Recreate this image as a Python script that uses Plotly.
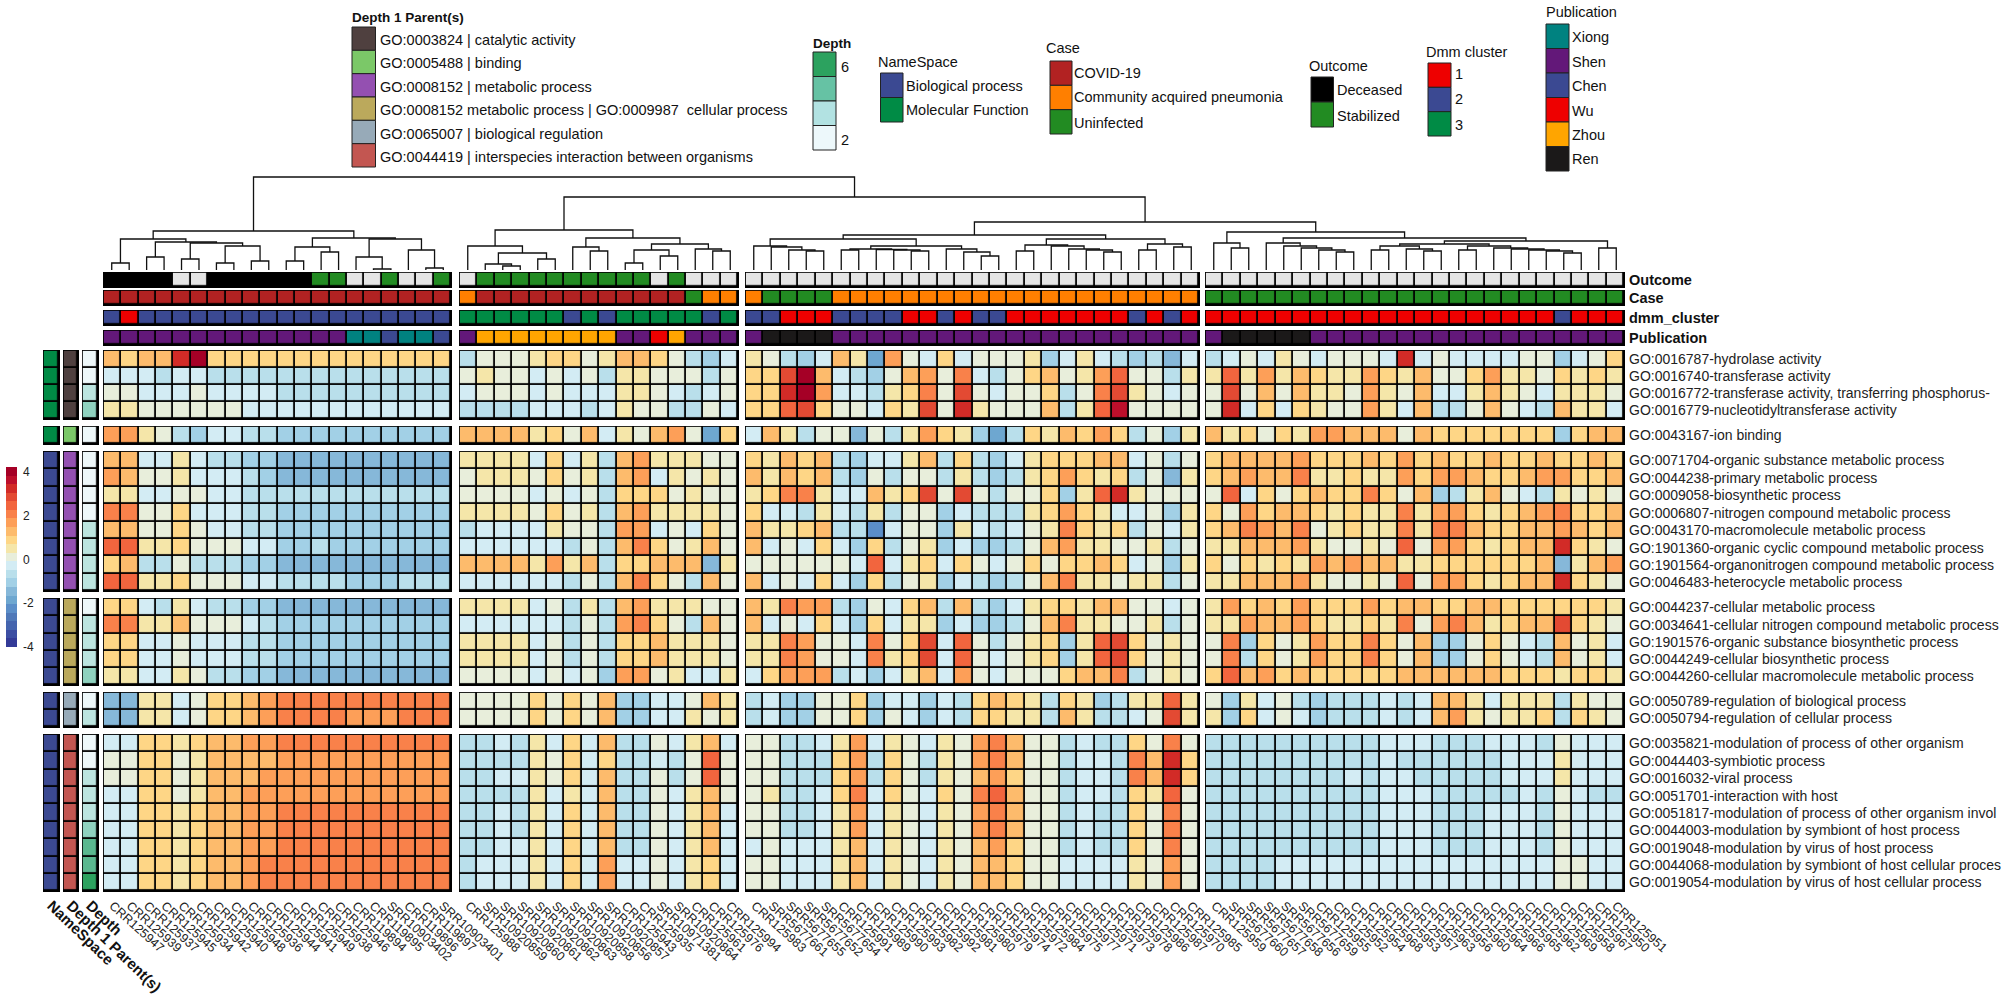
import plotly.graph_objects as go

W, H = 2006, 1006
FONT = "Liberation Sans"

# ---------- data ----------
samples_a = ["CRR125947","CRR125939","CRR125937","CRR125945","CRR125934","CRR125942","CRR125940","CRR125948","CRR125936","CRR125944","CRR125941","CRR125949","CRR125938","CRR125946","CRR119894","CRR119895","SRR10903402","CRR119896","CRR119897","SRR10903401"]
samples_b = ["CRR125988","SRR10920859","SRR10920860","SRR10920861","SRR10920862","SRR10920863","SRR10920858","SRR10920856","SRR10920857","CRR125943","CRR125935","SRR10971381","SRR10920864","CRR125961","CRR125976","CRR125994"]
samples_c = ["CRR125983","SRR5677661","SRR5677655","SRR5677652","SRR5677654","CRR125991","CRR125989","CRR125990","CRR125993","CRR125982","CRR125992","CRR125981","CRR125980","CRR125979","CRR125974","CRR125972","CRR125984","CRR125975","CRR125977","CRR125971","CRR125973","CRR125978","CRR125986","CRR125987","CRR125970","CRR125985"]
samples_d = ["CRR125959","SRR5677660","SRR5677657","SRR5677658","SRR5677656","SRR5677659","CRR125955","CRR125952","CRR125954","CRR125968","CRR125953","CRR125957","CRR125963","CRR125956","CRR125960","CRR125964","CRR125966","CRR125965","CRR125962","CRR125969","CRR125958","CRR125967","CRR125950","CRR125951"]

terms_a = ["GO:0016787-hydrolase activity","GO:0016740-transferase activity","GO:0016772-transferase activity, transferring phosphorus-","GO:0016779-nucleotidyltransferase activity"]
terms_b = ["GO:0043167-ion binding"]
terms_c = ["GO:0071704-organic substance metabolic process","GO:0044238-primary metabolic process","GO:0009058-biosynthetic process","GO:0006807-nitrogen compound metabolic process","GO:0043170-macromolecule metabolic process","GO:1901360-organic cyclic compound metabolic process","GO:1901564-organonitrogen compound metabolic process","GO:0046483-heterocycle metabolic process"]
terms_d = ["GO:0044237-cellular metabolic process","GO:0034641-cellular nitrogen compound metabolic process","GO:1901576-organic substance biosynthetic process","GO:0044249-cellular biosynthetic process","GO:0044260-cellular macromolecule metabolic process"]
terms_e = ["GO:0050789-regulation of biological process","GO:0050794-regulation of cellular process"]
terms_f = ["GO:0035821-modulation of process of other organism","GO:0044403-symbiotic process","GO:0016032-viral process","GO:0051701-interaction with host","GO:0051817-modulation of process of other organism invol","GO:0044003-modulation by symbiont of host process","GO:0019048-modulation by virus of host process","GO:0044068-modulation by symbiont of host cellular proces","GO:0019054-modulation by virus of host cellular process"]

levels_a = [
[3,2,3,3,8,10,2,2,2,2,2,2,2,2,2,2,2,2,2,2],
[-1,-1,-1,-2,-1,-1,-2,-2,-2,-2,-2,-2,-2,-2,-2,-2,-2,-2,-2,-2],
[0,0,-1,-1,-1,0,-1,-1,-1,-1,-2,-2,-2,-2,-2,-2,-2,-2,-2,-2],
[1,1,0,0,0,0,0,0,-1,-1,-1,-1,-1,-1,-1,-1,-1,-1,-1,-1],
[4,4,1,0,-2,-3,-1,-1,-2,-2,-3,-3,-3,-3,-3,-3,-3,-3,-3,-3],
[3,3,-1,-1,1,-1,-2,-2,-3,-3,-4,-4,-4,-4,-4,-4,-4,-4,-4,-4],
[4,3,0,0,1,-1,-1,-1,-2,-3,-4,-4,-4,-4,-4,-4,-4,-4,-4,-4],
[1,1,-1,-1,0,0,-1,-1,-2,-2,-2,-2,-2,-2,-2,-2,-2,-2,-2,-2],
[5,5,0,0,2,-1,-1,-1,-2,-2,-3,-3,-3,-3,-3,-3,-3,-3,-3,-3],
[3,3,0,0,2,0,-1,-1,-2,-2,-3,-3,-3,-3,-3,-3,-3,-3,-3,-3],
[6,6,1,1,2,0,0,0,-1,-1,-3,-3,-2,-3,-3,-3,-3,-3,-3,-3],
[2,3,-2,-2,0,-2,-2,-2,-3,-3,-4,-4,-4,-4,-4,-4,-4,-4,-4,-4],
[6,6,1,1,2,0,0,0,-1,-1,-2,-2,-2,-2,-3,-3,-3,-2,-2,-2],
[2,2,-1,-2,1,-1,-2,-2,-3,-3,-4,-4,-4,-4,-4,-4,-4,-4,-4,-4],
[5,5,1,1,3,0,0,0,-1,-2,-3,-3,-3,-3,-3,-3,-3,-3,-3,-3],
[2,2,-1,-1,0,-1,-1,-1,-2,-2,-3,-3,-3,-3,-3,-3,-3,-3,-3,-3],
[2,2,-1,-1,0,-1,-1,-1,-2,-2,-3,-3,-3,-3,-3,-3,-3,-3,-3,-3],
[1,1,-1,-1,1,0,-2,-2,-3,-3,-4,-4,-4,-4,-4,-4,-4,-4,-4,-4],
[-4,-4,1,1,-1,0,2,2,3,4,5,5,5,5,5,5,5,5,5,5],
[-4,-4,1,1,-1,0,2,2,3,4,5,5,5,5,4,4,4,5,5,5],
[-1,-1,2,2,1,2,3,3,4,4,5,5,5,5,5,5,5,5,5,5],
[0,0,2,2,0,1,3,3,3,3,4,4,4,4,4,4,4,4,4,4],
[0,0,2,2,0,1,3,3,3,4,4,4,4,4,4,4,4,4,4,4],
[-1,-1,2,2,0,1,3,3,4,4,4,4,4,4,4,4,4,4,4,4],
[-1,-1,2,2,1,2,3,3,4,4,5,5,5,5,5,5,5,5,5,5],
[-1,-1,2,2,1,2,3,3,4,4,5,5,5,5,5,5,5,5,5,5],
[-1,-1,2,2,1,2,3,3,4,4,5,5,5,5,5,5,5,5,5,5],
[-1,-1,2,2,1,2,3,3,4,5,5,5,5,5,5,5,5,5,5,5],
[-1,-1,2,2,1,2,3,3,4,5,5,5,5,5,5,5,5,5,5,5],
]
levels_b = [
[-2,0,0,0,1,2,2,0,1,3,3,2,0,-2,-3,-1],
[0,1,0,0,-1,0,-1,0,-2,1,1,0,0,0,-2,0],
[-1,0,0,0,-1,0,-1,-1,-1,1,1,0,-1,-2,-1,0],
[-2,-2,-2,-2,-1,-1,-1,-2,-1,1,0,0,-2,-2,0,-1],
[3,3,3,3,1,2,0,3,-1,1,0,3,4,0,-5,2],
[1,1,1,1,-1,2,-1,1,-2,3,4,1,1,1,0,0],
[0,1,1,1,0,2,0,1,-2,3,4,-1,1,0,1,0],
[0,0,0,0,-1,0,-1,0,-2,2,2,2,0,1,0,0],
[1,1,1,1,0,2,0,1,-2,3,4,1,1,1,1,0],
[-2,-1,-1,-1,-1,1,0,0,-2,4,4,-1,0,-1,2,0],
[-1,-1,-1,-1,-1,-1,-2,0,-2,3,5,2,0,1,3,0],
[3,3,3,3,1,4,1,3,-2,2,2,3,3,3,-4,1],
[-1,-1,-1,-1,-1,-1,-2,0,-2,3,5,2,0,-2,3,0],
[1,1,1,1,-1,0,-2,1,-2,3,4,1,1,1,0,0],
[-1,-1,-1,-1,-1,-1,-2,0,-2,4,5,2,0,-2,3,0],
[1,1,1,1,-1,0,-2,0,-2,2,2,3,1,1,1,0],
[1,1,1,1,-1,0,-2,0,-2,2,2,3,1,1,1,0],
[0,0,0,0,-1,0,-1,0,-3,4,4,0,1,-1,-1,1],
[0,0,0,0,2,0,2,0,3,-3,-3,-1,-1,0,3,1],
[0,0,0,0,2,0,2,0,3,-3,-3,-1,-1,1,0,1],
[-2,-2,-1,-2,1,-1,2,-1,3,-2,-2,0,-1,1,3,-1],
[-2,-2,-2,-2,1,0,2,-1,2,-2,-2,-1,-2,0,6,0],
[-2,-2,-1,-1,1,0,2,-1,3,-2,-2,0,-2,0,6,0],
[-2,-2,-2,-2,1,-1,1,-1,3,-2,-2,0,-1,1,3,0],
[-2,-2,-1,-2,1,-1,2,-1,3,-2,-2,0,-1,1,3,-1],
[-2,-2,-1,-2,1,-1,2,-1,3,-2,-2,0,-1,1,3,-1],
[-2,-2,-1,-1,1,-1,2,-1,3,-2,-2,0,-1,1,3,-1],
[-2,-1,-1,-1,1,-1,2,-1,4,-1,-1,0,-1,1,2,-1],
[-2,-1,-1,-1,1,-1,2,-1,4,-1,-1,0,-1,1,2,-1],
]
levels_c = [
[1,0,-2,-3,-1,3,1,-5,4,0,-1,2,-1,0,0,0,1,-3,-1,1,-1,-2,-3,-2,-4,-1],
[2,2,7,10,3,-1,-2,-3,0,3,4,0,5,-1,-2,0,2,3,0,1,4,6,0,0,-2,1],
[2,2,8,10,4,-1,-1,-2,1,2,5,0,7,0,-1,0,0,2,-2,0,5,7,1,0,-1,0],
[2,2,6,7,2,0,0,-1,2,1,7,0,8,1,0,0,0,3,-2,1,6,9,0,0,0,0],
[-1,3,1,-2,0,0,-4,0,-2,1,4,2,1,-3,-5,-2,2,1,3,2,4,2,-2,0,-3,1],
[2,1,3,2,3,-2,-3,-1,-1,1,3,-2,2,-2,-3,-1,1,2,2,2,3,3,-1,0,-2,0],
[3,1,3,2,3,-2,-3,0,-2,0,0,-2,1,-2,-3,-2,1,2,4,2,1,2,-2,0,-4,1],
[1,2,5,5,1,-1,-1,3,1,2,7,0,7,0,-2,0,0,2,-3,1,6,8,1,0,0,0],
[2,-1,-1,-2,1,-1,-2,1,-2,0,0,-3,-1,-2,-2,-2,1,2,4,2,1,-1,-1,0,-3,1],
[3,1,1,2,3,-2,-2,-6,-1,0,0,-3,1,-1,-2,-1,0,1,5,2,1,2,-2,0,-1,1],
[3,-1,0,-1,2,-1,-3,2,-2,0,1,-3,-1,-3,-3,-2,0,3,4,1,1,0,0,1,-2,0],
[0,0,0,0,0,0,-1,6,-1,1,2,-1,2,0,-1,0,2,0,2,2,3,2,-1,0,-3,1],
[3,-1,0,-1,2,-1,-3,2,-2,0,1,-3,-1,-2,-3,-2,0,3,5,1,1,0,1,1,-2,0],
[3,1,5,4,4,-2,-3,0,-1,2,3,-2,3,-2,-3,-1,1,2,2,1,3,3,0,0,-1,0],
[3,-1,0,-1,2,-1,-3,2,-1,1,1,-3,-1,-3,-3,-2,0,3,5,1,1,0,0,1,-2,0],
[1,1,5,4,0,0,-1,5,0,2,7,-1,6,0,-2,0,1,2,-3,1,6,7,2,0,1,0],
[1,1,5,4,0,0,-1,5,1,2,7,-1,6,0,-1,0,1,2,-3,1,6,7,2,0,1,0],
[-1,2,4,4,4,-2,-1,-3,-1,1,3,-1,4,0,-1,0,0,0,2,3,3,5,-2,0,1,0],
[-2,-1,-3,-3,0,0,2,-3,-1,-1,-3,-1,-2,2,3,2,1,-2,2,1,-3,-2,1,1,6,1],
[-2,-1,-3,-3,0,0,2,-3,0,-1,-3,-1,-2,2,2,1,1,-2,3,1,-2,-2,-1,0,7,1],
[0,0,-2,-2,-1,1,4,-1,1,0,-1,1,0,4,5,3,0,0,-2,-1,-2,-2,2,0,5,0],
[0,0,-2,-2,-2,2,4,-2,2,0,-2,1,0,4,5,3,0,0,-2,-1,-1,-2,5,3,8,2],
[0,0,-2,-2,-2,2,4,-2,2,0,-2,1,0,3,4,2,0,0,-2,-1,-1,-2,5,3,8,2],
[0,1,-2,-2,-1,2,5,-1,2,0,-1,2,0,5,6,3,0,0,-2,-1,-1,-2,2,1,6,0],
[0,0,-2,-2,-1,1,4,-1,1,0,-1,1,0,4,5,3,0,0,-2,-1,-2,-2,2,0,5,0],
[0,0,-2,-2,-1,1,4,-1,1,0,-1,1,0,4,5,3,0,0,-2,-1,-2,-2,2,0,5,0],
[-1,0,-1,-1,-1,1,3,-1,1,0,-1,1,0,3,4,2,0,0,-2,-1,-2,-2,2,0,5,0],
[0,0,-1,-1,-1,1,3,-1,1,0,-1,1,0,3,3,2,0,0,-1,-1,-1,-1,1,0,4,0],
[0,0,-1,-1,-1,1,3,-1,1,0,-1,1,0,3,3,2,0,0,-1,-1,-1,-1,1,0,4,0],
]
levels_d = [
[-2,-1,0,-1,1,0,-1,0,0,0,-1,8,-1,0,-1,-1,-1,-1,0,0,-3,-1,0,2],
[1,6,1,4,1,3,2,1,1,4,2,1,3,0,0,2,4,1,1,0,2,1,2,1],
[0,7,0,3,0,3,1,1,0,4,1,0,3,-1,-1,1,3,1,0,-1,1,1,1,0],
[0,8,-1,2,-1,2,1,0,0,4,1,-1,3,-2,-2,0,3,0,-1,-2,3,1,1,-1],
[3,1,2,0,2,1,4,4,3,3,3,0,3,2,2,2,2,2,2,2,-3,2,3,3],
[2,3,3,3,3,4,2,2,2,3,2,4,2,3,2,2,3,2,2,3,2,2,3,2],
[2,3,4,3,3,5,1,1,2,1,1,4,2,4,4,3,2,2,3,4,4,2,2,3],
[0,6,-1,2,0,2,3,2,2,5,2,0,3,-3,-2,1,3,0,-1,-2,1,0,1,0],
[2,0,4,2,3,3,2,1,2,1,1,5,1,4,4,2,1,2,3,4,5,2,2,3],
[2,3,5,4,3,5,0,1,2,1,1,5,1,5,5,3,2,2,3,3,4,3,2,3],
[1,1,3,3,3,4,1,0,0,1,0,6,0,4,4,2,1,2,3,3,8,2,1,0],
[2,0,2,1,2,1,4,3,4,3,3,1,1,2,2,2,2,2,2,3,-4,1,3,4],
[1,1,3,3,3,4,1,0,0,1,0,6,0,4,4,2,1,2,3,3,8,2,1,0],
[1,4,2,3,2,4,2,2,2,4,2,3,3,2,2,3,3,2,2,2,2,2,2,1],
[1,1,4,3,3,4,2,1,1,2,1,5,0,4,5,3,1,2,3,3,7,2,1,0],
[0,5,-3,2,0,1,4,2,2,5,2,0,3,-3,-3,0,2,0,-1,-2,3,0,1,-1],
[0,5,-2,2,0,1,4,2,2,5,2,0,3,-3,-3,0,2,0,-1,-2,3,0,1,-1],
[2,6,3,4,2,3,2,2,2,2,2,3,3,3,3,3,3,2,2,2,1,2,2,1],
[0,-3,1,-1,0,-2,-3,-2,-2,-2,-1,-2,-1,3,3,1,-1,1,1,1,-2,1,0,0],
[1,-3,2,-1,0,-1,-3,-2,-2,-2,-1,-2,-1,3,4,1,0,1,1,2,-2,2,1,0],
[-2,-2,-2,-2,-2,-2,-2,-2,-2,-2,-1,-1,-1,-2,-2,-2,-1,-1,-1,-2,0,-1,-1,-1],
[-2,-2,-2,-2,-2,-2,-2,-2,-2,-2,-1,-2,-2,-2,-2,-2,-2,-1,-1,-1,1,-1,-1,-1],
[-2,-2,-2,-2,-2,-2,-2,-2,-1,-2,-1,-1,-2,-2,-2,-2,-2,-1,-1,-1,1,-1,-1,-1],
[-2,-2,-2,-2,-2,-2,-2,-2,-2,-2,-1,-1,-1,-2,-2,-2,-2,-2,-1,-2,0,-1,-2,-2],
[-2,-2,-2,-2,-2,-2,-2,-2,-2,-2,-1,-1,-1,-2,-2,-2,-1,-1,-1,-2,0,-1,-1,-1],
[-2,-2,-2,-2,-2,-2,-2,-2,-2,-2,-1,-1,-1,-2,-2,-2,-1,-1,-1,-2,0,-1,-1,-1],
[-2,-2,-2,-2,-2,-2,-2,-2,-2,-2,-1,-1,-1,-2,-2,-2,-1,-1,-1,-2,0,-1,-1,-1],
[-2,-2,-2,-2,-1,-1,-1,-1,-1,-1,-1,-1,-1,-1,-1,-1,-1,-1,-1,-1,0,0,-1,-1],
[-2,-2,-2,-2,-1,-1,-1,-1,-1,-1,-1,-1,-1,-1,-1,-1,-1,-1,-1,-1,0,0,-1,-1],
]

NA = "NA"
outcome = (["Deceased"]*4+[NA]*2+["Deceased"]*6+["Stabilized"]*2+[NA]*2+["Stabilized"]+[NA]*2+["Stabilized"]
           +[NA]+["Stabilized"]*10+[NA]+["Stabilized"]+[NA]*3+[NA]*26+[NA]*24)
case = (["COVID-19"]*20
        +["Community acquired pneumonia"]+["COVID-19"]*12+["Uninfected"]+["Community acquired pneumonia"]*2
        +["Community acquired pneumonia"]+["Uninfected"]*4+["Community acquired pneumonia"]*21
        +["Uninfected"]*24)
dmm = ([2,1]+[2]*18
       +[3,3,3,3,3,3,2,3,2,3,3,3,3,3,2,3]
       +[2,2,1,1,1,2,2,2,2,1,1,2,1,2,2,1,1,1,1,1,1,1,2,1,2,1]
       +[1]*20+[2]+[1]*3)
publication = (["Shen"]*14+["Xiong","Xiong","Chen","Xiong","Xiong","Chen"]
               +["Shen"]+["Zhou"]*8+["Shen","Shen","Wu","Zhou"]+["Shen"]*3
               +["Shen"]+["Ren"]*4+["Shen"]*21
               +["Shen"]+["Ren"]*5+["Shen"]*18)
namespace = ["Molecular Function"]*5+["Biological process"]*24
parent = (["catalytic"]*4+["binding"]+["metabolic"]*8+["metabolic_cellular"]*5+["regulation"]*2+["interspecies"]*9)
depth = [2,2,3,4, 2, 2,2,2,2,3,3,3,3, 2,3,3,3,4, 2,3, 2,2,3,3,3,4,5,5,6]

# dendrogram: [height, left, right], L is a leaf
L = None
tree_a = [39,[31,[7,L,L],[28,[13,L,L],[27,[11,L,L],[24,[7,L,L],[9,L,L]]]]],
             [32,[23,[9,L,L],[18,L,L]],[31,[13,L,[1,L,L]],[20,L,[2,L,L]]]]]
tree_b = [40,[24,L,[17,[6,L,[4,L,L]],[11,L,L]]],
             [32,[23,L,[19,L,L]],[26,[20,[7,L,L],[14,L,L]],[21,L,[19,L,L]]]]]
tree_c = [35,[31,[24,L,[23,L,[20,L,[19,L,L]]]],
                 [24,[21,[20,L,L],[20.5,L,[20,L,[19,L,L]]]],[21,L,[18,L,[14,L,L]]]]],
             [31,[25,[19,L,L],[24,L,[21,L,[20,L,[18,L,L]]]]],[26,[20,L,L],[23,L,L]]]]
tree_d = [38,[27,L,[22,L,L]],
             [32,[27,L,[24,L,[22,L,[20,L,[18,L,L]]]]],
                 [29,[26,[24,[20,L,L],[21,L,[19,L,L]]],[24,[20,L,L],[22,L,[21,L,[20,L,[19,L,[17,L,L]]]]]]],[22,L,L]]]]
tree = [93,tree_a,[73,tree_b,[48,tree_c,tree_d]]]

# ---------- styles / geometry ----------
band_colors = ["#333a97","#3c4ea3","#4464ae","#4f78b8","#5b8ec8","#6ea7d0","#86b8d9","#a2d0e6","#b9dfeb","#d3ecf4",
               "#e8eedb","#f5e6a9","#fed686","#fdbb6c","#fd9f58","#f9814a","#f2653e","#e34a33","#d22b27","#bd0f2b","#a50026"]
CMIN, CMAX = -4.0, 4.23
NB = len(band_colors)
BW = (CMAX-CMIN)/NB
scale = []
for i, c in enumerate(band_colors):
    scale += [[i/NB, c], [(i+1)/NB, c]]

cat_colors = {"NA":"#e5e5e5","Deceased":"#000000","Stabilized":"#228b22","COVID-19":"#b22222",
              "Community acquired pneumonia":"#ff7f00","Uninfected":"#228b22",
              1:"#ee0000",2:"#3b4992",3:"#008b45",
              "Xiong":"#008280","Shen":"#631879","Chen":"#3b4992","Wu":"#ee0000","Zhou":"#ffa500","Ren":"#1b1919",
              "Molecular Function":"#008b45","Biological process":"#3b4992",
              "catalytic":"#4f403f","binding":"#7bc868","metabolic":"#9450b1","metabolic_cellular":"#bba95c",
              "regulation":"#97aab8","interspecies":"#c35651"}
depth_colors = {2:"#eef8fa",3:"#bce5e0",4:"#8fd2bf",5:"#5ab88f",6:"#2ca25f"}
all_colors = {**{("c",k):v for k,v in cat_colors.items()}, **{("d",k):v for k,v in depth_colors.items()}}
code = {k:i for i,k in enumerate(all_colors)}
NC = len(code)
cat_scale = []
for k,i in code.items():
    cat_scale += [[i/NC, all_colors[k]], [(i+1)/NC, all_colors[k]]]

col_blocks = [(103,452,samples_a,levels_a),(459,739,samples_b,levels_b),(745,1200,samples_c,levels_c),(1205,1625,samples_d,levels_d)]
row_blocks = [(350,420,terms_a),(426,445,terms_b),(451,592,terms_c),(598,686,terms_d),(692,728,terms_e),(734,892,terms_f)]
top_rows = [(272,288,"Outcome",outcome),(290,306,"Case",case),(310,326,"dmm_cluster",dmm),(330,346,"Publication",publication)]
left_cols = [(43,60,"NameSpace",namespace,"c"),(63,79,"Depth 1 Parent(s)",parent,"c"),(82,99,"Depth",depth,"d")]

fig = go.Figure()
layout = {}
shapes = []
annots = []
GAP = 1.8
AX = dict(showgrid=False, zeroline=False, showline=False, ticks="", fixedrange=True, automargin=False)

def xdom(a,b): return [a/W, b/W]
def ydom(a,b): return [1-b/H, 1-a/H]
def xrange_(n,px):
    e = 0.9*n/px
    return [-0.5-e, n-0.5+e]
def yrange_(n,px):
    e = 0.9*n/px
    return [n-0.5+e, -0.5-e]
def axn(p,i): return p if i==1 else f"{p}{i}"
def lname(p,i): return ("xaxis" if p=="x" else "yaxis")+("" if i==1 else str(i))

def backing(xi,yi):
    shapes.append(dict(type="rect",layer="below",xref=axn("x",xi)+" domain",yref=axn("y",yi)+" domain",
                       x0=0,x1=1,y0=0,y1=1,fillcolor="#000000",line_width=0))

# x axes: four sample blocks then three side annotation columns
xi = 0
xids = []
LAST_Y = len(row_blocks)
for (a,b,labels,_) in col_blocks:
    xi += 1; xids.append(xi)
    layout[lname("x",xi)] = dict(AX,domain=xdom(a,b),range=xrange_(len(labels),b-a),anchor=axn("y",LAST_Y),side="bottom",
        tickmode="array",tickvals=list(range(len(labels))),ticktext=labels,tickangle=42,ticklabelstandoff=3,
        tickfont=dict(family=FONT,size=12.5,color="#222"))
left_ids = []
for (a,b,label,_,_k) in left_cols:
    xi += 1; left_ids.append(xi)
    layout[lname("x",xi)] = dict(AX,domain=xdom(a,b),range=xrange_(1,b-a),anchor=axn("y",LAST_Y),side="bottom",
        tickmode="array",tickvals=[0],ticktext=[f"<b>{label}</b>"],tickangle=44,ticklabelstandoff=1,
        tickfont=dict(family=FONT,size=15,color="#111"))
RIGHT_X = xids[-1]

# y axes: six term blocks then four top annotation rows
yi = 0
yids = []
for (a,b,labels) in row_blocks:
    yi += 1; yids.append(yi)
    layout[lname("y",yi)] = dict(AX,domain=ydom(a,b),range=yrange_(len(labels),b-a),anchor=axn("x",RIGHT_X),side="right",
        tickmode="array",tickvals=list(range(len(labels))),ticktext=labels,ticklabelstandoff=3,
        tickfont=dict(family=FONT,size=14,color="#222"))
top_ids = []
for (a,b,label,_) in top_rows:
    yi += 1; top_ids.append(yi)
    layout[lname("y",yi)] = dict(AX,domain=ydom(a,b),range=yrange_(1,b-a),anchor=axn("x",RIGHT_X),side="right",
        tickmode="array",tickvals=[0],ticktext=[f"<b>{label}</b>"],ticklabelstandoff=3,
        tickfont=dict(family=FONT,size=14.5,color="#111"))

# main heatmaps
for cb,(a,b,labels,lv) in zip(xids,col_blocks):
    start = 0
    for rb,(ra,rbb,terms) in zip(yids,row_blocks):
        rows = lv[start:start+len(terms)]
        start += len(terms)
        z = [[(k+(NB-1)/2+0.5)*BW+CMIN for k in r] for r in rows]
        fig.add_trace(go.Heatmap(z=z,xaxis=axn("x",cb),yaxis=axn("y",rb),coloraxis="coloraxis",
                                 xgap=GAP,ygap=GAP,hoverinfo="skip"))
        backing(cb,rb)

# annotation rows over the columns
offset = 0
for cb,(a,b,labels,_) in zip(xids,col_blocks):
    n = len(labels)
    for ty,(ra,rb_,label,vals) in zip(top_ids,top_rows):
        z = [[code[("c",v)]+0.5 for v in vals[offset:offset+n]]]
        fig.add_trace(go.Heatmap(z=z,xaxis=axn("x",cb),yaxis=axn("y",ty),colorscale=cat_scale,zmin=0,zmax=NC,
                                 showscale=False,xgap=GAP,ygap=GAP,hoverinfo="skip"))
        backing(cb,ty)
    offset += n

# annotation columns beside the rows
for lx,(a,b,label,vals,kind) in zip(left_ids,left_cols):
    start = 0
    for rb,(ra,rbb,terms) in zip(yids,row_blocks):
        z = [[code[(kind,v)]+0.5] for v in vals[start:start+len(terms)]]
        start += len(terms)
        fig.add_trace(go.Heatmap(z=z,xaxis=axn("x",lx),yaxis=axn("y",rb),colorscale=cat_scale,zmin=0,zmax=NC,
                                 showscale=False,xgap=GAP,ygap=GAP,hoverinfo="skip"))
        backing(lx,rb)

# dendrogram
leaf_x = []
for (a,b,labels,_) in col_blocks:
    w = (b-a)/len(labels)
    leaf_x += [a+(i+.5)*w for i in range(len(labels))]
dx, dy = [], []
counter = [0]
def walk(node):
    if node is None:
        x = leaf_x[counter[0]]; counter[0]+=1
        return x, 0
    h,l,r = node
    xl,hl = walk(l); xr,hr = walk(r)
    dx.extend([xl,xl,xr,xr,None]); dy.extend([hl,h,h,hr,None])
    return (xl+xr)/2, h
walk(tree)
xi += 1; yi += 1
layout[lname("x",xi)] = dict(AX,domain=[0,1],range=[0,W],anchor=axn("y",yi),showticklabels=False)
layout[lname("y",yi)] = dict(AX,domain=ydom(170,270),range=[0,100],anchor=axn("x",xi),showticklabels=False)
fig.add_trace(go.Scatter(x=dx,y=dy,mode="lines",line=dict(color="#111",width=1.3),xaxis=axn("x",xi),yaxis=axn("y",yi),
                         hoverinfo="skip",showlegend=False,cliponaxis=False))

# legends
def px(x): return x/W
def py(y): return 1-y/H
def text(x,y,s,size=14.5,bold=False,anchor="left"):
    annots.append(dict(xref="paper",yref="paper",x=px(x),y=py(y),text=f"<b>{s}</b>" if bold else s,showarrow=False,
                       xanchor=anchor,yanchor="middle",font=dict(family=FONT,size=size,color="#111"),
                       borderpad=0,borderwidth=0))
def legend(title,tx,ty,x0,x1,y0,y1,colors,labels,lx,ly,bold=False,size=14.5):
    text(tx,ty,title,size=size,bold=bold)
    h = (y1-y0)/len(colors)
    for i,c in enumerate(colors):
        shapes.append(dict(type="rect",xref="paper",yref="paper",x0=px(x0),x1=px(x1),y0=py(y0+i*h),y1=py(y0+(i+1)*h),
                           fillcolor=c,line=dict(color="#222",width=1)))
    for s,y in zip(labels,ly):
        text(lx,y,s)

legend("Depth 1 Parent(s)",352,17,352,375.5,27,167,
       [cat_colors[k] for k in ("catalytic","binding","metabolic","metabolic_cellular","regulation","interspecies")],
       ["GO:0003824 | catalytic activity","GO:0005488 | binding","GO:0008152 | metabolic process",
        "GO:0008152 metabolic process | GO:0009987  cellular process","GO:0065007 | biological regulation",
        "GO:0044419 | interspecies interaction between organisms"],380,[40,63,87,110,134,157],bold=True,size=13.5)
legend("Depth",813,43,813,836,52,150,["#2ca25f","#66c2a4","#b2e2e2","#edf8fb"],["6","2"],841,[67,140],bold=True,size=13.5)
legend("NameSpace",878,62,880.5,903,73,122,["#3b4992","#008b45"],["Biological process","Molecular Function"],906,[86,110])
legend("Case",1046,48,1050,1072,61,134,["#b22222","#ff7f00","#228b22"],["COVID-19","Community acquired pneumonia","Uninfected"],1074,[73,97,123])
legend("Outcome",1309,66,1311,1333.5,77,127,["#000000","#228b22"],["Deceased","Stabilized"],1336.5,[90,116])
legend("Dmm cluster",1426,52,1428,1451,63,136,["#ee0000","#3b4992","#008b45"],["1","2","3"],1455,[74,99,125])
legend("Publication",1546,12,1546,1569,24,171,["#008280","#631879","#3b4992","#ee0000","#ffa500","#1b1919"],
       ["Xiong","Shen","Chen","Wu","Zhou","Ren"],1572,[37,62,86,111,135,159])

fig.update_layout(
    width=W,height=H,margin=dict(l=0,r=0,t=0,b=0),paper_bgcolor="white",plot_bgcolor="white",showlegend=False,
    shapes=shapes,annotations=annots,font=dict(family=FONT),
    coloraxis=dict(colorscale=scale,cmin=CMIN,cmax=CMAX,colorbar=dict(
        x=6/W,xanchor="left",xpad=0,y=1-467/H,yanchor="top",ypad=0,thicknessmode="pixels",thickness=11,
        lenmode="pixels",len=180,outlinewidth=0,borderwidth=0,
        tickmode="array",tickvals=[-4,-2,0,2,4],ticktext=["-4","-2","0","2","4"],ticks="outside",ticklen=4,tickcolor="rgba(0,0,0,0)",
        tickfont=dict(family=FONT,size=12,color="#222"))),
    **layout)
fig.write_html("out.html",config={"displayModeBar":False},
               post_script="document.body.style.margin='0';document.documentElement.style.overflow='hidden';")
